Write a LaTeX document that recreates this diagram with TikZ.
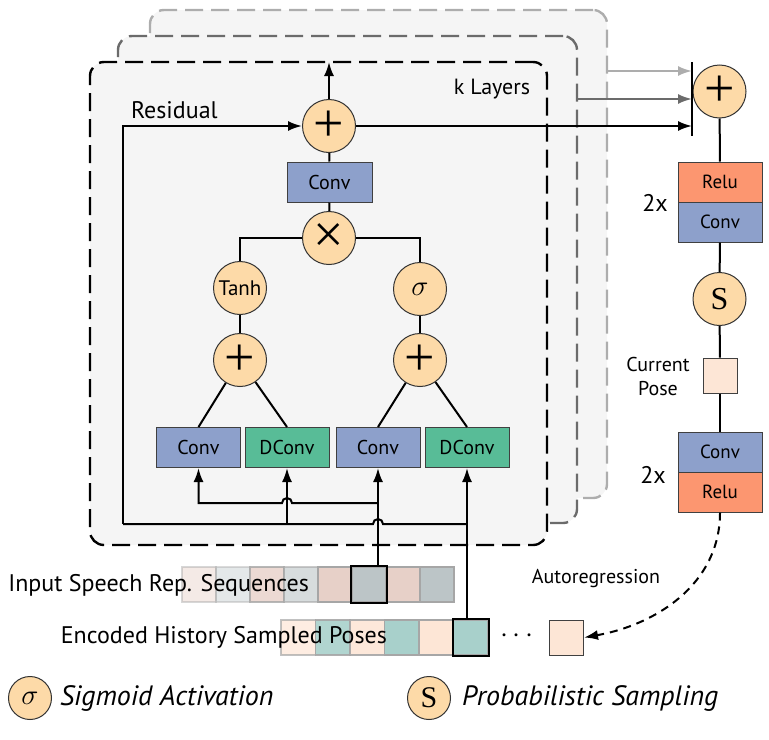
\documentclass[tikz,border=0pt]{standalone}
\usepackage{fontspec}
\setmainfont{PT Sans}
\newfontfamily\serifS{Liberation Serif}
\usetikzlibrary{arrows.meta}

\definecolor{opfill}{HTML}{FDDAA8}
\definecolor{convc}{HTML}{8DA0CB}
\definecolor{dconvc}{HTML}{58BC97}
\definecolor{reluc}{HTML}{FC9670}
\definecolor{panelc}{HTML}{F5F5F5}
\definecolor{spk}{HTML}{E7D0C8}
\definecolor{spg}{HTML}{BCC5C7}
\definecolor{posk}{HTML}{FDE6D6}
\definecolor{post}{HTML}{A8D0CB}

\newcommand{\bigplus}{\serifS\fontsize{27}{27}\selectfont +}

\tikzset{
    op/.style={circle, draw=black!80, fill=opfill, line width=0.5pt, minimum size=26.5pt, inner sep=0pt},
    blk/.style={rectangle, draw=black!75, line width=0.5pt, minimum width=42pt, minimum height=20pt, inner sep=0pt, font=\fontsize{10}{12}\selectfont},
    seq/.style={rectangle, draw=black!35, line width=0.8pt, minimum width=17pt, minimum height=17.5pt, inner sep=0pt},
    arr/.style={line width=1pt, -{Latex[length=7pt,width=5pt]}},
    conn/.style={line width=1pt},
    panel/.style={rectangle, rounded corners=7pt, fill=panelc, line width=1.2pt, dash pattern=on 9pt off 4pt, inner sep=0pt, outer sep=0pt},
}

\begin{document}
\begin{tikzpicture}[x=0.5pt, y=-0.5pt, font=\fontsize{12}{14}\selectfont]
    \useasboundingbox (0,0) rectangle (769,739);

    \node[panel, draw=black!32, minimum width=228.5pt, minimum height=244pt] (layer3) at (378.5,254) {}; %back
    \node[panel, draw=black!58, minimum width=229.5pt, minimum height=243.5pt] (layer2) at (347.5,279.5) {}; %middle
    \node[panel, draw=black, minimum width=228.5pt, minimum height=241.5pt] (layer1) at (318.5,303.5) {}; %front
    \node[font=\fontsize{11}{13}\selectfont] (klay) at (492,89) {k Layers};

    \node[op] (addTop) at (329,126) {\bigplus};
    \node[blk, fill=convc, minimum width=42.5pt] (convTop) at (329.5,182) {Conv};
    \node[op] (mul) at (329,238) {\serifS\fontsize{27}{27}\selectfont ×};
    \node[op, font=\fontsize{10.5}{12}\selectfont] (tanh) at (240,288) {Tanh};
    \node[op] (sig) at (420,289) {\fontsize{15}{15}\selectfont$\sigma$};
    \node[op] (addL) at (240,360) {\bigplus};
    \node[op] (addR) at (420,360) {\bigplus};
    \node[blk, fill=convc] (cv1) at (198.5,447.5) {Conv};
    \node[blk, fill=dconvc] (dc1) at (287,447.5) {DConv};
    \node[blk, fill=convc] (cv2) at (378,447.5) {Conv};
    \node[blk, fill=dconvc] (dc2) at (467,447.5) {DConv};
    \node[anchor=west] (resLab) at (124,110) {Residual};

    % output column
    \node[op] (addOut) at (719.5,91.5) {\bigplus};
    \node[blk, fill=reluc, font=\fontsize{9.5}{11}\selectfont] (reluA) at (720,182) {Relu};
    \node[blk, fill=convc, font=\fontsize{9.5}{11}\selectfont] (convA) at (720,222) {Conv};
    \node (twoA) at (655,203) {2x};
    \node[op] (samp) at (719.5,299) {\serifS\fontsize{16}{16}\selectfont S};
    \node[seq, fill=posk, draw=black!75, line width=0.5pt] (pose) at (720,375.5) {};
    \node[align=center, font=\fontsize{10}{12}\selectfont] (poseLab) at (658,376) {Current\\Pose};
    \node[blk, fill=convc, font=\fontsize{9.5}{11}\selectfont] (convB) at (720,452) {Conv};
    \node[blk, fill=reluc, font=\fontsize{9.5}{11}\selectfont] (reluB) at (720,492) {Relu};
    \node (twoB) at (653,475) {2x};
    \coordinate (barT) at (692,62);
    \coordinate (barB) at (692,136);
    \draw[line width=1.2pt] (barT) -- (barB);

    % sequences
    \foreach \c/\o [count=\i] in {spk/0.45,spg/0.4,spk/0.8,spg/0.6,spk/1,spg/1,spk/1,spg/1}
    {\node[seq, fill=\c, fill opacity=\o, draw opacity=\o] (sp\i) at (165+34*\i,584.5) {};}
    \draw[line width=1pt] (sp6.south west) rectangle (sp6.north east);
    \node[anchor=east] (spLab) at (316,585) {Input Speech Rep. Sequences};

    \foreach \c/\o [count=\i] in {posk/0.7,post/0.9,posk/0.9,post/1,posk/1,post/1}
    {\node[seq, fill=\c, fill opacity=\o, draw opacity=\o, minimum width=17.25pt] (hp\i) at (263.75+34.5*\i,637.5) {};}
    \draw[line width=1pt] (hp6.south west) rectangle (hp6.north east);
    \node[anchor=east] (hpLab) at (394,637) {Encoded History Sampled Poses};
    \node (dots) at (517,636) {\fontsize{15}{15}\selectfont$\cdots$};
    \node[seq, fill=posk, draw=black!75, line width=0.5pt] (last) at (566.5,637.5) {};
    \node[font=\fontsize{10}{12}\selectfont] (autoLab) at (596,578) {Autoregression};

    % legend
    \node[op, minimum size=21.5pt] (legSig) at (30,698) {\fontsize{14}{14}\selectfont$\sigma$};
    \node[anchor=west, font=\fontsize{14}{16}\selectfont\itshape] (legSigLab) at (53,698) {Sigmoid Activation};
    \node[op, minimum size=21.5pt] (legS) at (429,698) {\serifS\fontsize{15}{15}\selectfont S};
    \node[anchor=west, font=\fontsize{14}{16}\selectfont\itshape] (legSLab) at (455,698) {Probabilistic Sampling};

    % wiring
    \coordinate (hiY) at (0,503);
    \coordinate (loY) at (0,524);
    \coordinate (resC) at (123,524);
    \coordinate (gy3) at (0,71);
    \coordinate (gy2) at (0,99);
    \draw[arr] (sp6.north -| cv2) -- (cv2.south);
    \draw[arr] (hp6.north -| dc2) -- (dc2.south);
    \draw[arr] (cv2 |- hiY) -- (292,503) arc[start angle=0, end angle=-180, radius=5] -- (cv1 |- hiY) -- (cv1.south);
    \draw[conn] (dc2 |- loY) -- (383,524) arc[start angle=0, end angle=-180, radius=5] -- (resC);
    \draw[arr] (dc1 |- loY) -- (dc1.south);
    \draw[arr] (resC) -- (resC |- addTop) -- (addTop.west); %residual
    \draw[conn] (addL) -- (cv1.north);
    \draw[conn] (addL) -- (dc1.north);
    \draw[conn] (addR) -- (cv2.north);
    \draw[conn] (addR) -- (dc2.north);
    \draw[conn] (tanh) -- (addL);
    \draw[conn] (sig) -- (addR);
    \draw[conn] (tanh.north) |- (mul.west);
    \draw[conn] (sig.north) |- (mul.east);
    \draw[conn] (mul) -- (convTop);
    \draw[conn] (convTop) -- (addTop);
    \draw[arr] (addTop.north) -- (addTop |- layer1.north);
    \draw[arr] (addTop.east) -- (addTop.east -| barT);
    \draw[arr, draw=black!58] (layer2.east |- gy2) -- (barT |- gy2);
    \draw[arr, draw=black!32] (layer3.east |- gy3) -- (barT |- gy3);
    \draw[conn] (addOut) -- (reluA);
    \draw[conn] (convA) -- (samp);
    \draw[conn] (samp) -- (pose);
    \draw[conn] (pose) -- (convB);
    \draw[arr, dash pattern=on 4pt off 3pt] (reluB.south) to[out=-90, in=10] (last.east);
\end{tikzpicture}
\end{document}
